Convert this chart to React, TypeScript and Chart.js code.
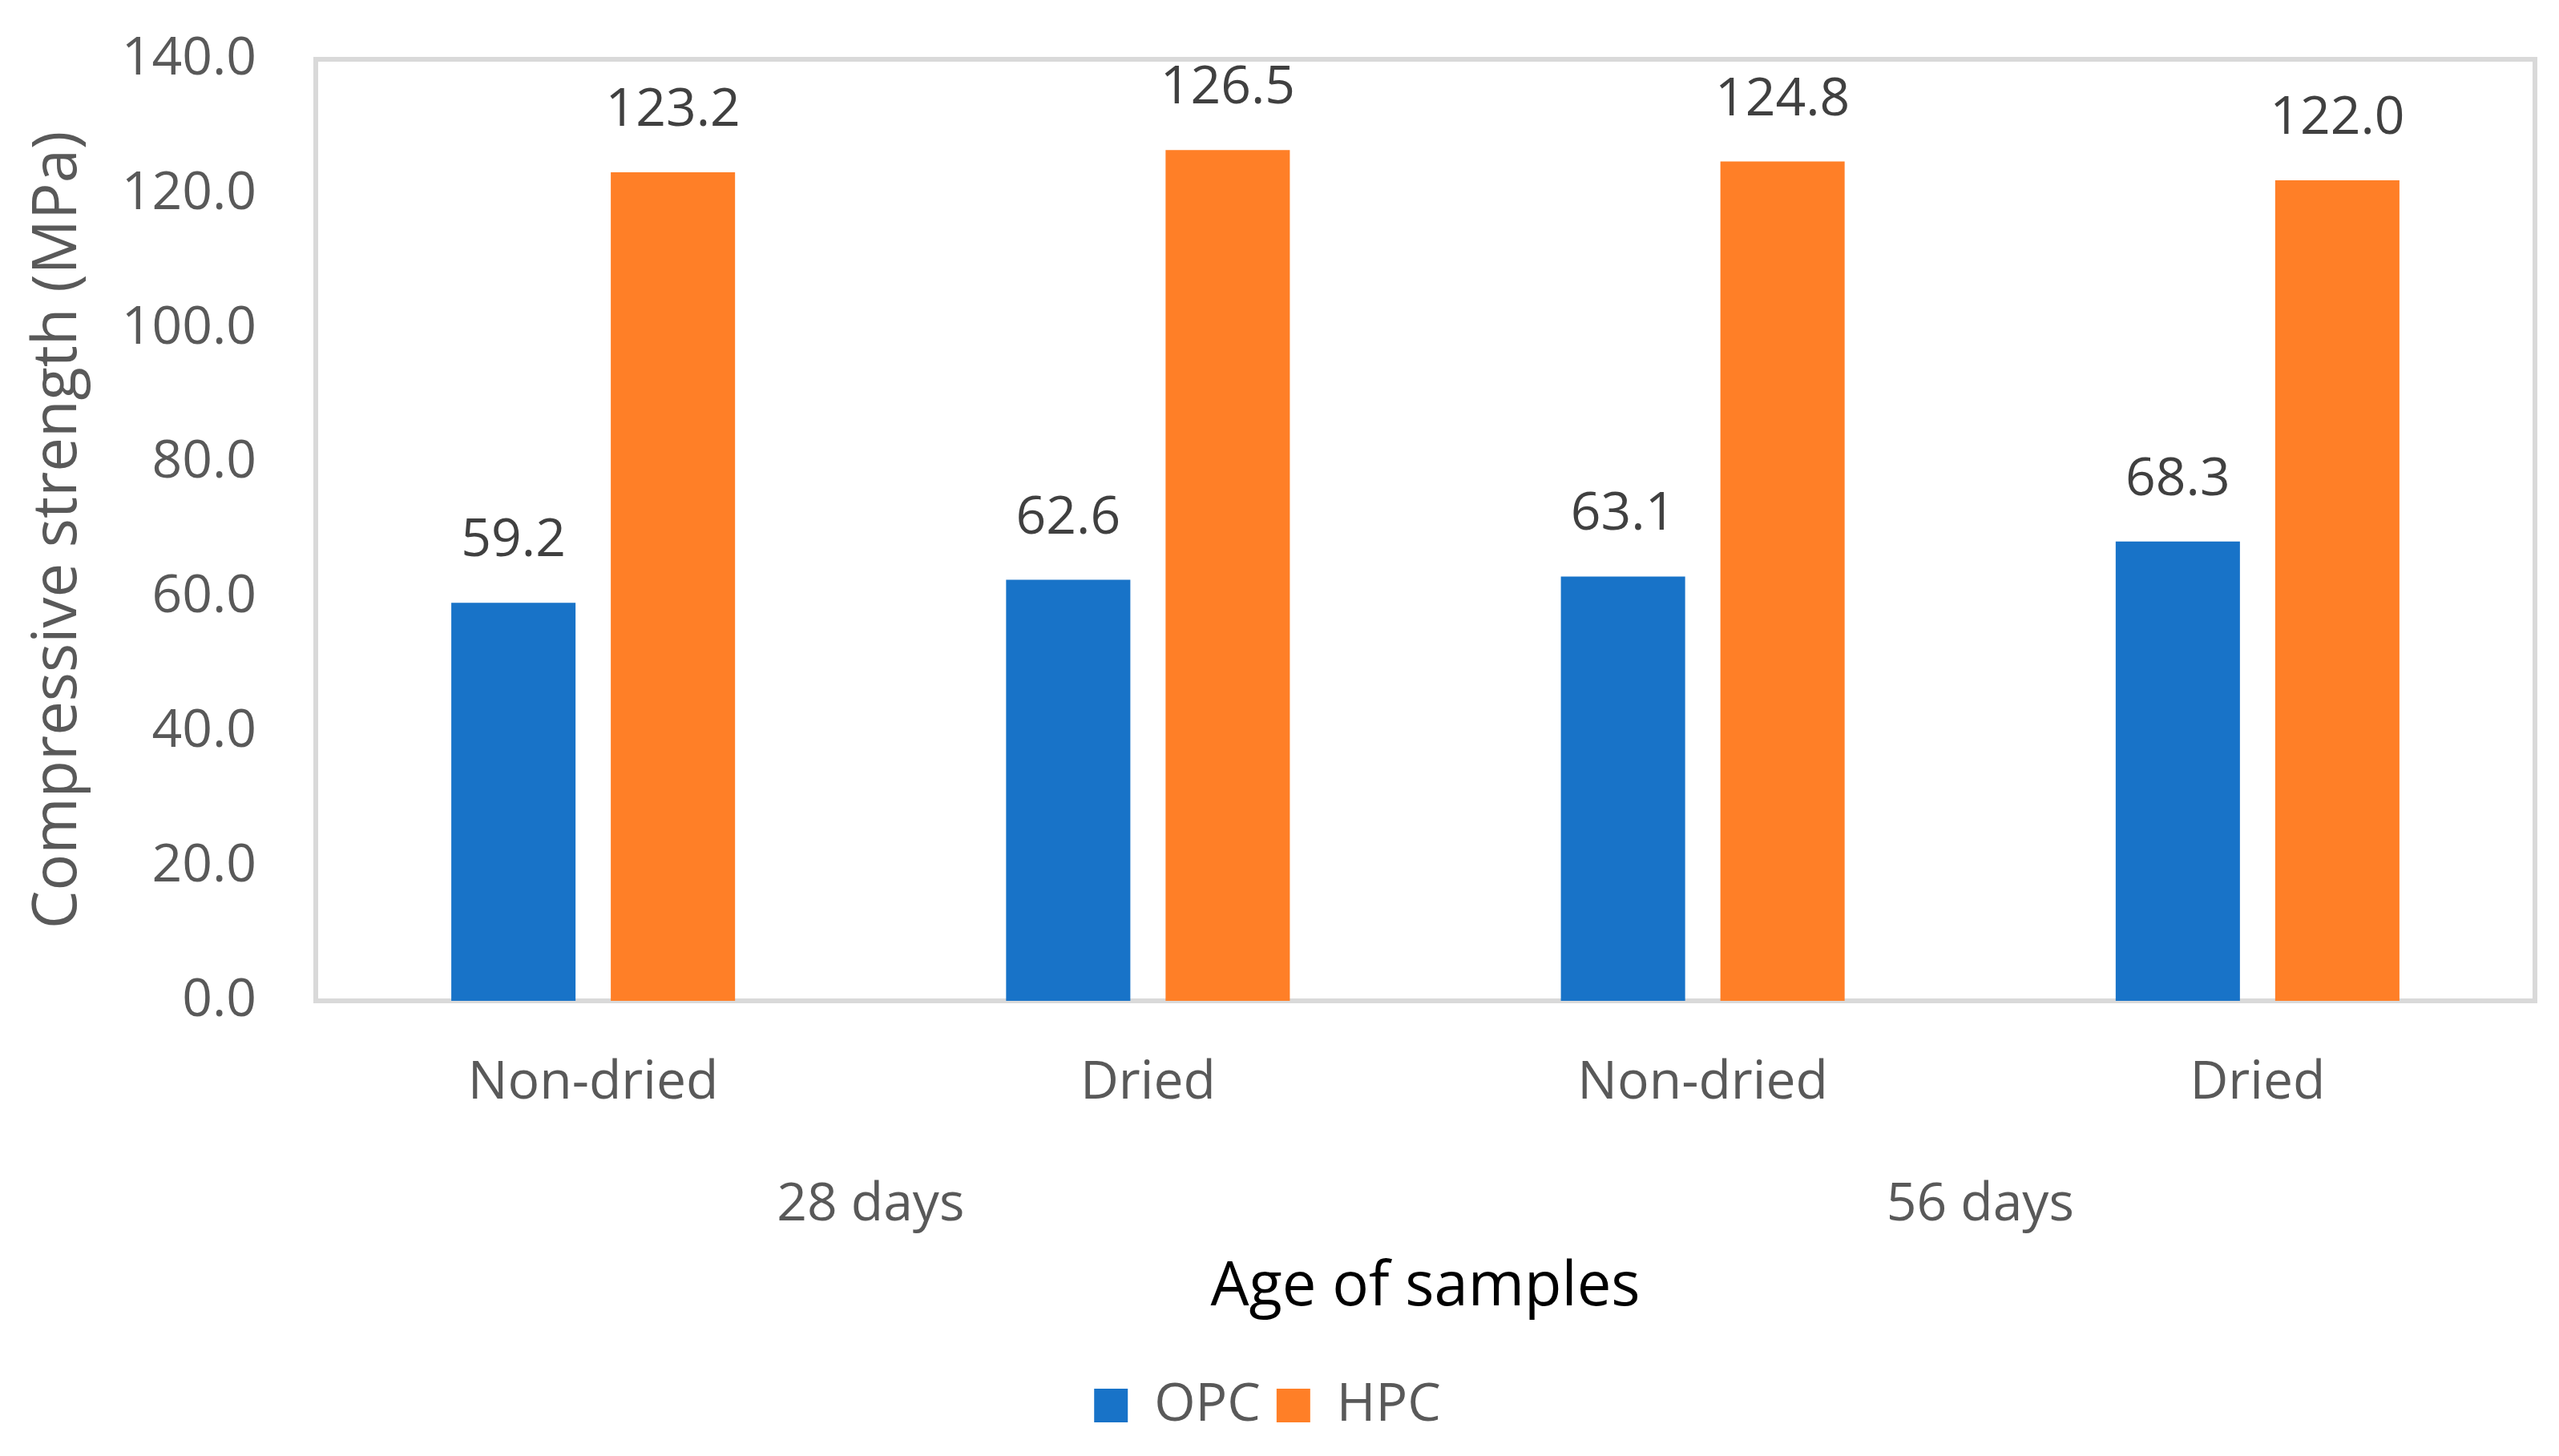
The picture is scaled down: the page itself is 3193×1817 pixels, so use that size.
import React, { useEffect, useRef } from "react";
import { Chart, registerables } from "chart.js";

Chart.register(...registerables);

const categories = ["Non-dried", "Dried", "Non-dried", "Dried"];
const groups = ["28 days", "56 days"];
const seriesNames = ["OPC", "HPC"];
const opcValues = [59.2, 62.6, 63.1, 68.3];
const hpcValues = [123.2, 126.5, 124.8, 122.0];
const yMin = 0;
const yMax = 140;
const yStep = 20;
const xTitle = "Age of samples";
const yTitle = "Compressive strength (MPa)";

const FONT = '"Open Sans", "DejaVu Sans", sans-serif';
const W = 3193;
const H = 1817;

const framePlugin = {
  id: "frame",
  beforeDatasetsDraw(chart: any) {
    const { ctx, chartArea: a } = chart;
    ctx.save();
    ctx.strokeStyle = "#d9d9d9";
    ctx.lineWidth = 6;
    ctx.strokeRect(a.left, a.top, a.right - a.left, a.bottom - a.top);
    ctx.restore();
  },
};

const valueLabelPlugin = {
  id: "valueLabels",
  afterDatasetsDraw(chart: any) {
    const { ctx } = chart;
    ctx.save();
    ctx.font = `66px ${FONT}`;
    ctx.fillStyle = "#404040";
    ctx.textAlign = "center";
    ctx.textBaseline = "alphabetic";
    chart.data.datasets.forEach((ds: any, i: number) => {
      const meta = chart.getDatasetMeta(i);
      meta.data.forEach((el: any, j: number) => {
        ctx.fillText(Number(ds.data[j]).toFixed(1), el.x, el.y - 58);
      });
    });
    ctx.restore();
  },
};

export default function App() {
  const canvasRef = useRef<HTMLCanvasElement | null>(null);

  useEffect(() => {
    let chart: Chart | null = null;
    let cancelled = false;
    const build = () => {
      if (cancelled || !canvasRef.current) return;
      chart = new Chart(canvasRef.current, {
        type: "bar",
        data: {
          labels: categories,
          datasets: [
            {
              label: seriesNames[0],
              data: opcValues,
              backgroundColor: "#1873c8",
              borderWidth: 0,
              categoryPercentage: 0.575,
              barPercentage: 0.779,
            },
            {
              label: seriesNames[1],
              data: hpcValues,
              backgroundColor: "#ff7f27",
              borderWidth: 0,
              categoryPercentage: 0.575,
              barPercentage: 0.779,
            },
          ],
        },
        options: {
          responsive: false,
          animation: false,
          devicePixelRatio: 1,
          layout: { padding: { top: 74, right: 30, bottom: 20, left: 0 } },
          plugins: {
            tooltip: { enabled: false },
            legend: {
              position: "bottom",
              labels: {
                boxWidth: 42,
                boxHeight: 42,
                padding: 20,
                color: "#595959",
                font: { family: FONT, size: 66 },
              },
            },
          },
          scales: {
            x: {
              type: "category",
              position: "bottom",
              grid: { display: false, drawTicks: false },
              border: { display: false },
              ticks: { color: "#595959", font: { family: FONT, size: 66 }, padding: 64, maxRotation: 0 },
              afterFit: (s: any) => {
                s.height = 195;
              },
            },
            x2: {
              type: "category",
              labels: groups,
              position: "bottom",
              offset: true,
              grid: { display: false, drawTicks: false },
              border: { display: false },
              ticks: { color: "#595959", font: { family: FONT, size: 66 }, padding: 21, maxRotation: 0 },
              title: {
                display: true,
                text: xTitle,
                color: "#000000",
                font: { family: FONT, size: 76 },
                padding: { top: 5, bottom: 48 },
              },
              afterFit: (s: any) => {
                s.height = 257;
              },
            },
            y: {
              min: yMin,
              max: yMax,
              grid: { display: false, drawTicks: false },
              border: { display: false },
              ticks: {
                stepSize: yStep,
                color: "#595959",
                font: { family: FONT, size: 66 },
                padding: 74,
                callback: (v: any) => Number(v).toFixed(1),
              },
              title: {
                display: true,
                text: yTitle,
                color: "#595959",
                font: { family: FONT, size: 76 },
                padding: { top: 28, bottom: 0 },
              },
              afterFit: (s: any) => {
                s.width = 394;
                s.paddingTop = 0;
                s.paddingBottom = 0;
              },
            },
          },
        },
        plugins: [framePlugin, valueLabelPlugin],
      } as any);
    };
    const fonts = (document as any).fonts;
    if (fonts && fonts.load) {
      Promise.all([fonts.load(`66px ${FONT}`), fonts.load(`76px ${FONT}`)])
        .catch(() => null)
        .then(build);
    } else {
      build();
    }
    return () => {
      cancelled = true;
      if (chart) chart.destroy();
    };
  }, []);

  return (
    <div style={{ position: "absolute", left: 0, top: 0, width: W, height: H, background: "#ffffff" }}>
      <canvas ref={canvasRef} width={W} height={H} style={{ width: W, height: H, display: "block" }} />
    </div>
  );
}
